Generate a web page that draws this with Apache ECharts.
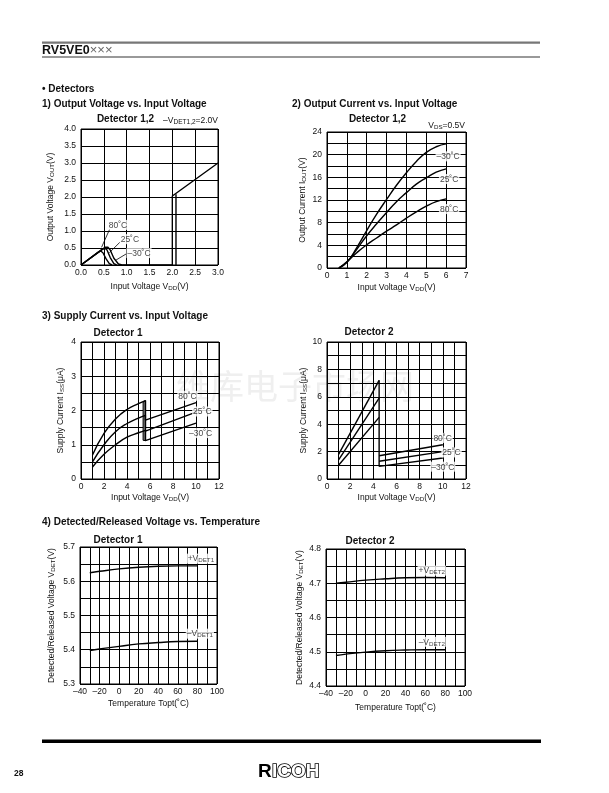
<!DOCTYPE html>
<html><head><meta charset="utf-8">
<script src="https://cdn.jsdelivr.net/npm/echarts@6/dist/echarts.min.js"></script>
<style>html,body{margin:0;padding:0;background:#fff}#c{width:609px;height:793px}</style>
</head><body><div id="c"></div>
<script>
// ---------- Chart 1: Output Voltage vs Input Voltage ----------
const c1_80 = [[0,0],[0.38,0.38],[0.43,0.41],[0.48,0.36],[0.55,0.18],[0.62,0.04],[0.68,0]];
const c1_25 = [[0,0],[0.46,0.46],[0.52,0.5],[0.57,0.44],[0.64,0.22],[0.72,0.04],[0.78,0]];
const c1_m30 = [[0,0],[0.53,0.52],[0.59,0.52],[0.64,0.44],[0.72,0.2],[0.82,0.03],[0.9,0]];
const c1_release = [[0.9,0],[2.0,0],[2.0,2.03],[3.0,3.0]];
const c1_detect = [[2.08,0],[2.08,2.08]];
const c1_labels = [[0.81,1.18,'80˚C'],[1.07,0.76,'25˚C'],[1.27,0.35,'–30˚C']];
const c1_leader80 = [[0.63,1.06],[0.45,0.52]];
const c1_leader25 = [[0.86,0.68],[0.62,0.36]];
const c1_leaderm30 = [[1.02,0.35],[0.76,0.14]];

// ---------- Chart 2: Output Current vs Input Voltage ----------
const c2_vdd = [0.6,1,1.5,2,2.5,3,3.5,4,4.5,5,5.5,6];
const c2_m30 = [0,1.0,3.6,6.6,9.5,12.1,14.6,16.8,18.8,20.4,21.4,21.9];
const c2_25 = [0,1.0,3.3,5.7,7.8,9.8,11.7,13.3,14.8,15.9,16.9,17.5];
const c2_80 = [0,1.1,2.7,4.1,5.3,6.5,7.6,8.8,9.9,10.9,11.7,12.2];
const c2_labels = [[6.1,19.7,'–30˚C'],[6.15,15.7,'25˚C'],[6.15,10.4,'80˚C']];

// ---------- Chart 3: Supply Current, Detector 1 ----------
const c3_preVdd = [1,2,3,4,5,5.6];
const c3_pre80 = [0.70,1.33,1.75,2.03,2.20,2.29];
const c3_pre25 = [0.50,1.00,1.38,1.62,1.78,1.86];
const c3_preM30 = [0.35,0.72,1.00,1.22,1.35,1.42];
const c3_postVdd = [5.6,10];
const c3_post80 = [1.72,2.23];
const c3_post25 = [1.40,1.95];
const c3_postM30 = [1.12,1.63];
const c3_band = [[5.4,1.13],[5.4,2.25],[5.62,2.29],[5.62,1.12]];
const c3_labels = [[9.26,2.43,'80˚C'],[10.55,1.97,'25˚C'],[10.4,1.34,'–30˚C']];

// ---------- Chart 4: Supply Current, Detector 2 ----------
const c4_preVdd = [1,4.5];
const c4_pre80 = [1.8,7.2];
const c4_pre25 = [1.4,5.9];
const c4_preM30 = [1.0,4.5];
const c4_dropVdd = [4.5,4.5];
const c4_dropI = [7.2,0.92];
const c4_postVdd = [4.5,10];
const c4_post80 = [1.7,2.5];
const c4_post25 = [1.3,2.0];
const c4_postM30 = [0.92,1.53];
const c4_labels = [[9.98,3.0,'80˚C'],[10.75,1.94,'25˚C'],[10.0,0.9,'–30˚C']];

// ---------- Chart 5/6: Detected/Released Voltage vs Temperature ----------
const temp = [-30,-20,0,20,40,60,80];
const vdetPlus1 = [5.625,5.629,5.636,5.641,5.644,5.645,5.645];
const vdetMinus1 = [5.398,5.402,5.410,5.417,5.421,5.424,5.425];
const vdetPlus2 = [4.700,4.703,4.709,4.713,4.716,4.717,4.716];
const vdetMinus2 = [4.489,4.493,4.499,4.503,4.505,4.506,4.506];
const c5_labels = [[83.5,5.666,'+V{s|DET1}'],[82.5,5.447,'–V{s|DET1}']];
const c6_labels = [[66.5,4.737,'+V{s|DET2}'],[66.5,4.529,'–V{s|DET2}']];

// ---------------------------------------------------------------
const F = "'Liberation Sans', Arial, sans-serif";
const TXT = '#111';
const FS = 8.5;
const RICH = { s: { fontFamily: F, fontSize: 6.2, color: TXT, verticalAlign: 'bottom' } };
const zip = (xs, ys) => xs.map((x, i) => [x, ys[i]]);

function fmtFactory(every, digits) {
  return v => {
    const k = Math.round(v / every);
    if (Math.abs(k * every - v) > 1e-6) return '';
    return v.toFixed(digits).replace('-', '–');
  };
}
function grid(l, t, w, h) {
  return { left: l, top: t, width: w, height: h, show: true, borderColor: '#000', borderWidth: 1, backgroundColor: 'transparent' };
}
function axis(kind, gi, min, max, interval, every, digits, name, gap) {
  return {
    type: 'value', gridIndex: gi, min, max, interval,
    name, nameLocation: 'middle', nameGap: gap,
    nameTextStyle: { fontFamily: F, fontSize: FS, color: TXT, rich: RICH },
    axisLine: { show: false }, axisTick: { show: false },
    splitLine: { show: true, lineStyle: { color: '#000', width: 1 } },
    axisLabel: { fontFamily: F, fontSize: FS, color: TXT, margin: kind === 'x' ? 3 : 5, formatter: fmtFactory(every, digits), showMinLabel: true, showMaxLabel: true }
  };
}
function line(gi, data, smooth) {
  return { type: 'line', xAxisIndex: gi, yAxisIndex: gi, data, smooth: smooth || false, symbol: 'none', silent: true,
    lineStyle: { color: '#000', width: 1.4 }, z: 5, animation: false };
}
function thin(gi, data) {
  return { type: 'line', xAxisIndex: gi, yAxisIndex: gi, data, symbol: 'none', silent: true,
    lineStyle: { color: '#000', width: 0.8 }, z: 5, animation: false };
}
function labels(gi, data) {
  return { type: 'scatter', xAxisIndex: gi, yAxisIndex: gi, data, symbolSize: 0, silent: true, z: 8, animation: false,
    label: { show: true, position: 'inside', formatter: p => p.value[2], fontFamily: F, fontSize: FS, color: TXT,
      backgroundColor: '#fff', padding: [1, 1, 0, 1], rich: { s: { fontFamily: F, fontSize: 6.2, color: TXT, verticalAlign: 'bottom' } } } };
}

const grids = [
  grid(81, 129, 137, 136),
  grid(327, 132, 139, 136),
  grid(81, 342, 138, 137),
  grid(327, 342, 139, 137),
  grid(80, 547, 137, 137),
  grid(326, 549, 139, 137)
];
const xAxes = [
  axis('x', 0, 0, 3, 0.5, 0.5, 1, 'Input Voltage V{s|DD}(V)', 17),
  axis('x', 1, 0, 7, 1, 1, 0, 'Input Voltage V{s|DD}(V)', 15),
  axis('x', 2, 0, 12, 1, 2, 0, 'Input Voltage V{s|DD}(V)', 14),
  axis('x', 3, 0, 12, 1, 2, 0, 'Input Voltage V{s|DD}(V)', 14),
  axis('x', 4, -40, 100, 10, 20, 0, 'Temperature Topt(˚C)', 15),
  axis('x', 5, -40, 100, 10, 20, 0, 'Temperature Topt(˚C)', 17)
];
const yAxes = [
  axis('y', 0, 0, 4, 0.5, 0.5, 1, 'Output Voltage V{s|OUT}(V)', 26),
  axis('y', 1, 0, 24, 2, 4, 0, 'Output Current I{s|OUT}(V)', 20),
  axis('y', 2, 0, 4, 0.5, 1, 0, 'Supply Current I{s|SS}(μA)', 16),
  axis('y', 3, 0, 10, 1, 2, 0, 'Supply Current I{s|SS}(μA)', 17),
  axis('y', 4, 5.3, 5.7, 0.05, 0.1, 1, 'Detected/Released Voltage V{s|DET}(V)', 24),
  axis('y', 5, 4.4, 4.8, 0.05, 0.1, 1, 'Detected/Released Voltage V{s|DET}(V)', 22)
];

const series = [
  line(0, c1_80), line(0, c1_25), line(0, c1_m30), line(0, c1_release), line(0, c1_detect),
  thin(0, c1_leader80), thin(0, c1_leader25), thin(0, c1_leaderm30),
  labels(0, c1_labels),
  line(1, zip(c2_vdd, c2_m30), true), line(1, zip(c2_vdd, c2_25), true), line(1, zip(c2_vdd, c2_80), true),
  labels(1, c2_labels),
  {
    type: 'custom', xAxisIndex: 2, yAxisIndex: 2, data: [[5.5, 1.7]], silent: true, z: 4, animation: false,
    renderItem: (params, api) => ({ type: 'polygon', shape: { points: c3_band.map(p => api.coord(p)) },
      style: { fill: '#858585', stroke: '#000', lineWidth: 1 } })
  },
  line(2, zip(c3_preVdd, c3_pre80), true), line(2, zip(c3_preVdd, c3_pre25), true), line(2, zip(c3_preVdd, c3_preM30), true),
  line(2, [[5.6, c3_pre80[5]]].concat(zip(c3_postVdd, c3_post80))),
  line(2, [[5.6, c3_pre25[5]]].concat(zip(c3_postVdd, c3_post25))),
  line(2, [[5.6, c3_preM30[5]]].concat(zip(c3_postVdd, c3_postM30))),
  labels(2, c3_labels),
  line(3, zip(c4_preVdd, c4_pre80)), line(3, zip(c4_preVdd, c4_pre25)), line(3, zip(c4_preVdd, c4_preM30)),
  line(3, zip(c4_dropVdd, c4_dropI)),
  line(3, zip(c4_postVdd, c4_post80)), line(3, zip(c4_postVdd, c4_post25)), line(3, zip(c4_postVdd, c4_postM30)),
  labels(3, c4_labels),
  line(4, zip(temp, vdetPlus1), true), line(4, zip(temp, vdetMinus1), true),
  labels(4, c5_labels),
  line(5, zip(temp, vdetPlus2), true), line(5, zip(temp, vdetMinus2), true),
  labels(5, c6_labels)
];

function T(x, y, text, opts) {
  opts = opts || {};
  return { type: 'text', x, y, z: 20, silent: true,
    style: Object.assign({ text, fontFamily: F, fontSize: 10, fontWeight: 'bold', fill: TXT, align: 'left', verticalAlign: 'middle' }, opts) };
}
const graphic = [
  { type: 'text', x: 176, y: 386, z: -10, silent: true,
    style: { text: '维库电子市场网', fontFamily: "'Noto Sans CJK SC'", fontSize: 34, fill: '#efefef', align: 'left', verticalAlign: 'middle' } },
  { type: 'rect', shape: { x: 42, y: 41.5, width: 498, height: 2.2 }, style: { fill: '#777' }, silent: true },
  { type: 'rect', shape: { x: 42, y: 56.3, width: 498, height: 1.4 }, style: { fill: '#777' }, silent: true },
  { type: 'text', x: 42, y: 50.5, z: 20, silent: true, style: { text: '{b|RV5VE0}{t|×××}', verticalAlign: 'middle', rich: {
      b: { fontFamily: F, fontSize: 12.5, fontWeight: 'bold', fill: '#111' },
      t: { fontFamily: F, fontSize: 13, fontWeight: 'normal', fill: '#666' } } } },
  T(42, 89, '• Detectors'),
  T(42, 104, '1) Output Voltage vs. Input Voltage'),
  T(292, 104, '2) Output Current vs. Input Voltage'),
  T(42, 316, '3) Supply Current vs. Input Voltage'),
  T(42, 522, '4) Detected/Released Voltage vs. Temperature'),
  T(125.5, 119.5, 'Detector 1,2', { align: 'center' }),
  T(377.5, 119, 'Detector 1,2', { align: 'center' }),
  T(118, 333, 'Detector 1', { align: 'center' }),
  T(369, 332, 'Detector 2', { align: 'center' }),
  T(118, 540, 'Detector 1', { align: 'center' }),
  T(370, 541, 'Detector 2', { align: 'center' }),
  { type: 'text', x: 218, y: 121, z: 20, silent: true, style: { text: '–V{s|DET1,2}=2.0V', align: 'right', verticalAlign: 'middle', fontFamily: F, fontSize: 8.5, fill: TXT, rich: { s: { fontFamily: F, fontSize: 6.5, fill: TXT, verticalAlign: 'bottom' } } } },
  { type: 'text', x: 465, y: 126, z: 20, silent: true, style: { text: 'V{s|DS}=0.5V', align: 'right', verticalAlign: 'middle', fontFamily: F, fontSize: 8.5, fill: TXT, rich: { s: { fontFamily: F, fontSize: 6.2, fill: TXT, verticalAlign: 'bottom' } } } },
  { type: 'rect', shape: { x: 42, y: 739.5, width: 499, height: 3.6 }, style: { fill: '#000' }, silent: true },
  T(14, 774, '28', { fontSize: 8.5 }),
  T(258, 772, 'R', { fontSize: 19, fill: '#000', fontFamily: "'Liberation Sans Narrow', 'Liberation Sans', Arial" }),
  { type: 'text', x: 272, y: 772, z: 20, silent: true, style: { text: 'ICOH', fontFamily: "'Liberation Sans Narrow', 'Liberation Sans', Arial", fontSize: 19, fontWeight: 'bold', fill: '#fff', stroke: '#000', lineWidth: 1.6, align: 'left', verticalAlign: 'middle' } }
];

const chart = echarts.init(document.getElementById('c'), null, { renderer: 'canvas' });
chart.setOption({
  animation: false,
  backgroundColor: '#fff',
  grid: grids, xAxis: xAxes, yAxis: yAxes, series, graphic
});
</script></body></html>
